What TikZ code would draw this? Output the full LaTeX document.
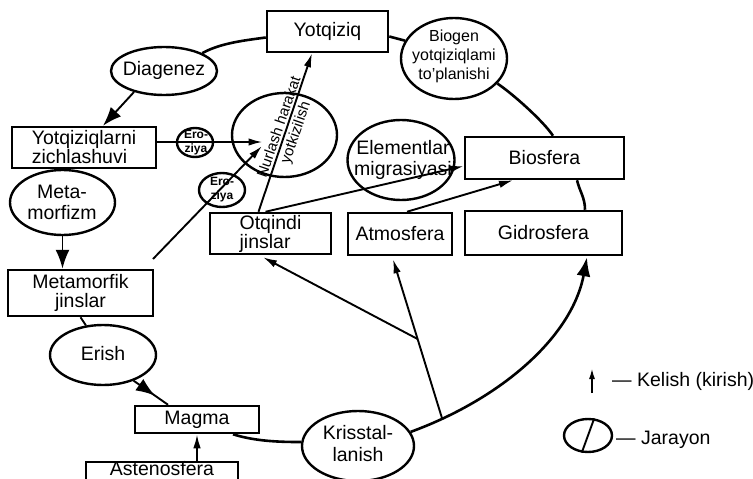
\documentclass[tikz,border=0pt]{standalone}
\usepackage{fontspec}
\setmainfont{Liberation Sans}
\usetikzlibrary{shapes.geometric,arrows.meta,decorations.markings}
\newcommand\fsz[2]{\fontsize{#1}{#2}\selectfont}
\begin{document}
\begin{tikzpicture}[x=1pt,y=-1pt,
  box/.style={draw, line width=2.5pt, inner sep=0pt, align=center, font=\fsz{19.5}{19}},
  proc/.style={draw, ellipse, line width=2.4pt, inner sep=0pt},
  ptext/.style={align=center, font=\fsz{19.5}{21}, inner sep=0pt},
  cyc/.style={line width=2.6pt},
  link/.style={line width=1.9pt},
  bigarrow/.style={-{Latex[length=19pt,width=14pt]}},
  smallarrow/.style={link, -{Latex[length=14pt,width=7.5pt]}},
  midarrow/.style={postaction={decorate}, decoration={markings, mark=at position 0.62 with {\arrow{Latex[length=19pt,width=14pt]}}}}
]
\fill[white] (0,0) rectangle (753,479);
\clip (0,0) rectangle (753,479);

% boxes
\node[box, minimum width=121pt, minimum height=41pt] (yot) at (327.5,31.5) {Yotqiziq};
\node[box, minimum width=144pt, minimum height=41pt, align=left] (zich) at (84,147.5) {Yotqiziqlarni\\zichlashuvi};
\node[box, minimum width=145pt, minimum height=46pt] (mj) at (80.5,293) {Metamorfik\\jinslar};
\node[box, minimum width=124pt, minimum height=27pt] (magma) at (197,419.5) {Magma};
\node[box, minimum width=152pt, minimum height=30pt, text height=13pt, text depth=17pt] (asten) at (162,477) {Astenosfera};
\node[box, minimum width=121pt, minimum height=41pt, align=left] (otq) at (270.5,233.5) {Otqindi\\jinslar};
\node[box, minimum width=104pt, minimum height=42pt] (atm) at (400,234) {Atmosfera};
\node[box, minimum width=157pt, minimum height=44pt] (gid) at (543.5,233) {Gidrosfera};
\node[box, minimum width=159pt, minimum height=42pt] (bio) at (544.5,158) {Biosfera};

% process ellipses
\node[proc, minimum width=106pt, minimum height=48pt] (dia) at (164,71) {};
\node[ptext] (diat) at (164,70) {Diagenez};
\node[proc, minimum width=106pt, minimum height=81pt] (biog) at (454,58.5) {};
\node[ptext, font=\fsz{16}{19}] (biogt) at (454,56) {Biogen\\yotqiziqlami\\to'planishi};
\node[proc, minimum width=36pt, minimum height=29pt] (ero1) at (195,142.5) {};
\node[ptext, font=\fsz{12}{14}\bfseries] (ero1t) at (196,143) {Ero-\\ziya};
\node[proc, minimum width=105pt, minimum height=84pt] (nur) at (284.5,135) {};
\node[ptext, rotate=71, font=\fsz{15}{17.5}] (nurt) at (288,130) {Nurlash harakat\\yotkizilish};
\node[proc, minimum width=46pt, minimum height=34pt] (ero2) at (222,190) {};
\node[ptext, font=\fsz{12}{14}\bfseries] (ero2t) at (222,190) {Ero-\\ziya};
\node[proc, minimum width=105pt, minimum height=65pt] (mfz) at (62.5,202.5) {};
\node[ptext] (mfzt) at (62,202) {Meta-\\morfizm};
\node[proc, minimum width=106pt, minimum height=60pt] (erish) at (103,355) {};
\node[ptext] (erisht) at (103,354) {Erish};
\node[proc, minimum width=112pt, minimum height=70pt] (kris) at (358,446) {};
\node[ptext, font=\fsz{19.5}{22}] (krist) at (358,444) {Krisstal-\\lanish};
\node[proc, minimum width=107pt, minimum height=80pt] (elem) at (401,160) {};
\node[ptext] (elemt) at (403,160) {Elementlar\\migrasiyasi};

% main cycle
\draw[cyc] ([yshift=-6pt]yot.west) .. controls +(-22,3) and +(18,-10) .. (dia.25);
\draw[link, bigarrow] (dia.215) -- ([xshift=19pt]zich.north);
\draw[link] (mfz.north |- zich.south) -- (mfz.north);
\draw[link, bigarrow] (mfz.south) -- (mfz.south |- mj.north);
\draw[link] (mj.south) -- (erish.120);
\draw[link, midarrow] (erish.-40) -- ([xshift=-29pt]magma.north);
\draw[smallarrow] (magma.south |- asten.north) -- (magma.south);
\draw[cyc] ([xshift=36pt]magma.south) .. controls +(22,7) and +(-22,0) .. (kris.176);
\draw[cyc, bigarrow] (kris.15) .. controls +(90,-33) and +(-15,80) .. ([xshift=43.5pt,yshift=-1pt]gid.south) node[coordinate, pos=0.12] (br1) {};
\draw[cyc] ([xshift=41.5pt]gid.north) .. controls +(0,-12) and +(3,12) .. ([xshift=32.5pt]bio.south);
\draw[cyc] ([xshift=8.5pt]bio.north) .. controls +(-10,-15) and +(15,10) .. (biog.-30);
\draw[cyc] (biog.160) -- ([yshift=-5pt]yot.east);

% inner flows
\draw[smallarrow] (br1) -- ([xshift=-7pt,yshift=-3pt]atm.south) node[coordinate, pos=0.5] (br2) {};
\draw[smallarrow] (br2) -- ([xshift=-7.5pt,yshift=-2pt]otq.south);
\draw[smallarrow] ([xshift=-12pt]otq.north) -- ([xshift=-15.5pt]yot.south);
\draw[smallarrow] ([xshift=-5pt]otq.north) -- ([yshift=-8pt]bio.west);
\draw[smallarrow] ([xshift=7pt]atm.north) -- ([xshift=-31.5pt]bio.south);
\draw[smallarrow] ([yshift=5.5pt]zich.east) -- ([xshift=-22pt,yshift=-7pt]nur.center);
\coordinate (free) at (153,259);
\draw[smallarrow] (free) -- ([xshift=-22.5pt,yshift=-11pt]nur.center);

% legend
\coordinate (kl0) at (592,393);
\coordinate (kl1) at (592,368);
\draw[link, -{Latex[length=11pt,width=6pt]}] (kl0) -- (kl1);
\node[ptext, anchor=west] (klt) at (612,381) {— Kelish (kirish)};
\node[proc, minimum width=48pt, minimum height=33pt] (leg) at (588,435.5) {};
\draw[link] (leg.70) -- (leg.250);
\node[ptext, anchor=west] (legt) at (616,440) {— Jarayon};
\end{tikzpicture}
\end{document}
